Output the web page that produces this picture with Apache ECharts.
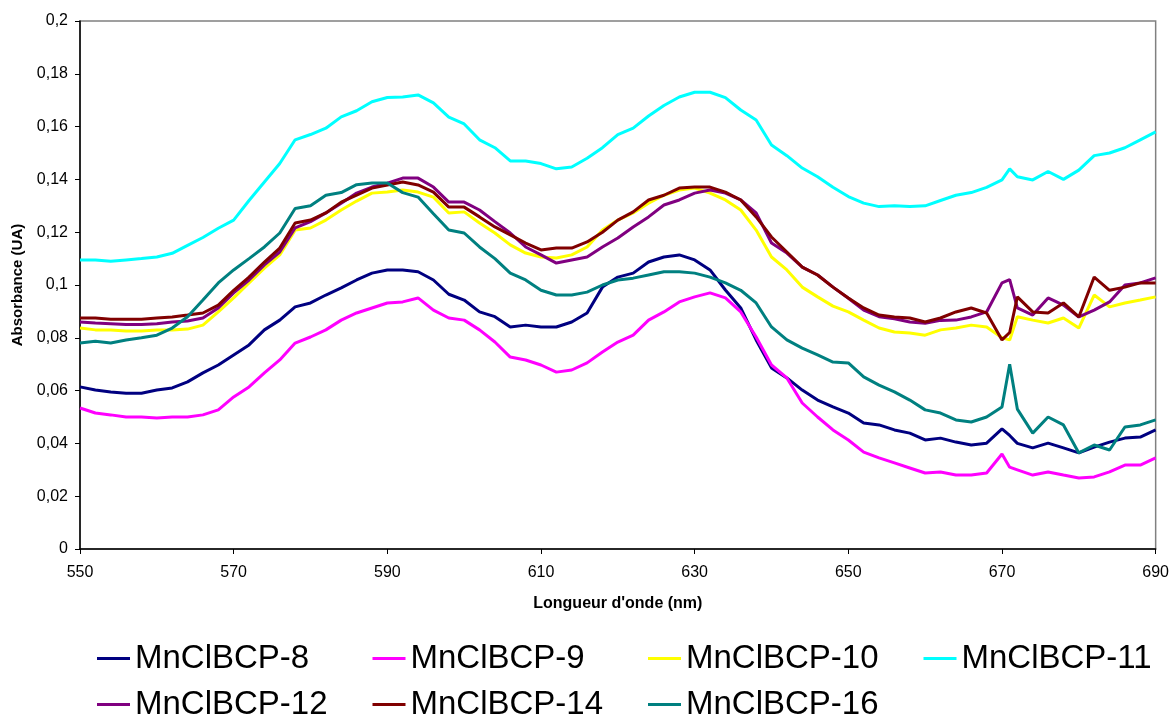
<!DOCTYPE html>
<html>
<head>
<meta charset="utf-8">
<script src="https://cdn.jsdelivr.net/npm/echarts@6/dist/echarts.min.js"></script>
<style>
  html, body { margin: 0; padding: 0; background: #fff; }
  #chart { width: 1172px; height: 720px; }
</style>
</head>
<body>
<div id="chart"></div>
<script>
// longueurs d'onde (nm)
var wavelengths = [550,552,554,556,558,560,562,564,566,568,570,572,574,576,578,580,582,584,586,588,
  590,592,594,596,598,600,602,604,606,608,610,612,614,616,618,620,622,624,626,628,
  630,632,634,636,638,640,642,644,646,648,650,652,654,656,658,660,662,664,666,668,
  670,671,672,674,676,678,680,682,684,686,688,690];

var names = ['MnClBCP-8','MnClBCP-9','MnClBCP-10','MnClBCP-11','MnClBCP-12','MnClBCP-14','MnClBCP-16'];
var colors = ['#000080','#ff00ff','#ffff00','#00ffff','#800080','#800000','#008080'];

var mn8 = [.0614,.0602,.0595,.059,.059,.0602,.061,.0633,.0667,.0697,.0735,.0773,.083,.0867,.0917,.0932,.0962,.0989,.1019,.1045,
  .1057,.1057,.105,.1019,.0965,.0943,.0898,.088,.0841,.0848,.0841,.0841,.086,.0894,.0992,.103,.1045,.1087,.1106,.1114,
  .1095,.1057,.0981,.0913,.0792,.0686,.0648,.0602,.0564,.0538,.0515,.0477,.047,.0451,.0439,.0413,.042,.0405,.0394,.0401,
  .0455,.043,.040,.0383,.0401,.0383,.0364,.0386,.0405,.042,.0424,.0451];

var mn9 = [.0534,.0515,.0508,.05,.05,.0496,.05,.05,.0508,.0527,.0576,.0614,.0667,.0716,.078,.0803,.083,.0867,.0894,.0913,
  .0932,.0936,.0951,.0905,.0875,.0867,.083,.0784,.0727,.0716,.0697,.067,.0678,.0705,.0746,.0784,.081,.0867,.0898,.0936,
  .0955,.097,.0951,.0898,.0803,.0697,.0648,.0553,.05,.0451,.0413,.0367,.0345,.0326,.0307,.0288,.0292,.028,.028,.0288,
  .036,.031,.030,.028,.0292,.028,.0269,.0273,.0292,.0318,.0318,.0345];

var mn10 = [.0837,.083,.083,.0826,.0826,.083,.083,.0833,.0848,.0898,.0951,.1008,.1064,.1114,.1208,.1216,.1246,.1284,.1318,.1348,
  .1352,.136,.1352,.1333,.1273,.1277,.1235,.1197,.1152,.1121,.1106,.1102,.1114,.1144,.1208,.1246,.1273,.131,.134,.136,
  .1367,.1348,.1322,.1284,.1208,.1106,.1057,.0992,.0955,.092,.0898,.0867,.0837,.0822,.0818,.081,.083,.0837,.0848,.0841,
  .080,.0792,.088,.0867,.0856,.0875,.0837,.0962,.0917,.0932,.0943,.0955];

var mn11 = [.1095,.1095,.109,.1095,.110,.1106,.112,.115,.118,.1215,.1246,.132,.139,.146,.155,.157,.1594,.1637,.166,.1694,
  .171,.1712,.172,.169,.1636,.161,.155,.152,.147,.147,.146,.144,.1447,.148,.152,.157,.1594,.164,.168,.1712,
  .173,.173,.171,.1663,.1625,.153,.149,.1443,.141,.137,.1335,.131,.1297,.130,.1297,.130,.132,.134,.135,.137,
  .1398,.144,.141,.1398,.143,.140,.1435,.149,.150,.152,.155,.158];

var mn12 = [.086,.0856,.0853,.085,.085,.0853,.086,.0864,.0875,.0913,.097,.1019,.1076,.1125,.1216,.124,.1273,.131,.1348,.1371,
  .1386,.1405,.1405,.1371,.1314,.1314,.1284,.124,.1197,.1144,.1114,.1083,.1095,.1106,.1144,.1178,.122,.1258,.1303,.1322,
  .1348,.136,.1348,.1322,.1273,.1159,.1121,.1068,.1038,.0992,.095,.0905,.088,.0872,.086,.0855,.0866,.0867,.0879,.0898,
  .1008,.102,.0913,.0886,.0951,.0924,.0879,.0905,.0936,.100,.1008,.1027];

var mn14 = [.0875,.0875,.087,.087,.087,.0875,.0879,.0886,.0894,.0924,.098,.103,.1087,.114,.1235,.1246,.1273,.1314,.134,.1367,
  .1379,.139,.1379,.1352,.1295,.1295,.1258,.122,.119,.1159,.1133,.114,.114,.1163,.12,.1246,.1277,.1322,.134,.1367,
  .1371,.1371,.1352,.1322,.1258,.1182,.1125,.1068,.1038,.0992,.0951,.0913,.0886,.0879,.0875,.086,.0875,.0898,.0913,.0894,
  .0792,.082,.0955,.0898,.0894,.0932,.0879,.103,.098,.0992,.1008,.1008];

var mn16 = [.078,.0787,.078,.0792,.080,.081,.0837,.088,.0943,.1008,.1057,.110,.1144,.1197,.129,.130,.134,.135,.138,.1386,
  .1386,.135,.1333,.127,.1208,.1197,.1144,.110,.1045,.1019,.098,.0962,.0962,.0973,.100,.1019,.1026,.1038,.105,.105,
  .1045,.103,.1008,.098,.0932,.0841,.0792,.0761,.0735,.0708,.0705,.0652,.0621,.0595,.0564,.0527,.0515,.0489,.0481,.050,
  .0538,.070,.053,.0439,.050,.047,.0364,.0394,.0375,.0462,.047,.0489];

var values = [mn8, mn9, mn10, mn11, mn12, mn14, mn16];

var chart = echarts.init(document.getElementById('chart'));

var series = [];
var legends = [];
for (var i = 0; i < names.length; i++) {
  series.push({
    name: names[i],
    type: 'line',
    showSymbol: false,
    symbol: 'none',
    lineStyle: { width: 3, color: colors[i] },
    itemStyle: { color: colors[i] },
    data: wavelengths.map(function (w, k) { return [w, values[i][k]]; })
  });
  // une légende par entrée pour garder les colonnes alignées
  legends.push({
    data: [names[i]],
    left: 97 + (i % 4) * 275.5,
    top: 642 + Math.floor(i / 4) * 46,
    padding: 0,
    icon: 'rect',
    itemWidth: 33,
    itemHeight: 3,
    textStyle: { fontSize: 33, color: '#000', fontFamily: 'Liberation Sans, Arial, sans-serif' }
  });
}

var option = {
  animation: false,
  backgroundColor: '#fff',
  textStyle: { fontFamily: 'Liberation Sans, Arial, sans-serif' },
  grid: {
    left: 80, right: 16, top: 21, bottom: 171,
    show: true, borderColor: '#808080', borderWidth: 1.5
  },
  legend: legends,
  xAxis: {
    type: 'value',
    min: 550, max: 690, interval: 20,
    name: "Longueur d'onde (nm)",
    nameLocation: 'middle',
    nameGap: 47,
    nameTextStyle: { fontSize: 16, fontWeight: 'bold', color: '#000' },
    axisLine: { lineStyle: { color: '#000', width: 1.5 } },
    axisTick: { show: true, length: 5, lineStyle: { color: '#000' } },
    axisLabel: { fontSize: 16, color: '#000', margin: 16 },
    splitLine: { show: false }
  },
  yAxis: {
    type: 'value',
    min: 0, max: 0.2, interval: 0.02,
    name: 'Absorbance (UA)',
    nameLocation: 'middle',
    nameGap: 55,
    nameTextStyle: { fontSize: 15, fontWeight: 'bold', color: '#000' },
    axisLine: { show: true, lineStyle: { color: '#000', width: 1.5 } },
    axisTick: { show: true, length: 5, lineStyle: { color: '#000' } },
    axisLabel: {
      fontSize: 16, color: '#000', margin: 12,
      formatter: function (v) { return v === 0 ? '0' : String(+v.toFixed(2)).replace('.', ','); }
    },
    splitLine: { show: false }
  },
  series: series
};

chart.setOption(option);
</script>
</body>
</html>
